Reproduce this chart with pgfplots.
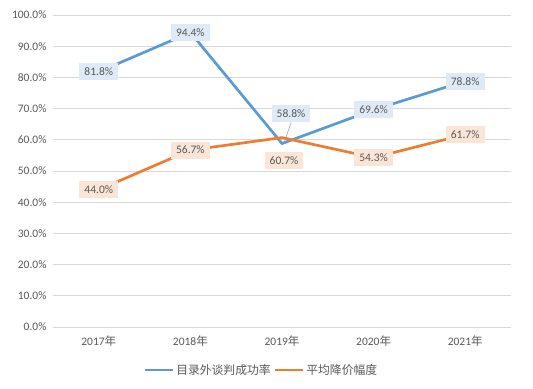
\documentclass[border=0pt]{standalone}
\usepackage{pgfplots}
\pgfplotsset{compat=1.18}
\usepackage{fontspec}
\setmainfont{Carlito}
\newfontfamily\cjk{Noto Sans CJK SC}
\definecolor{txt}{HTML}{595959}
\definecolor{gridc}{HTML}{D9D9D9}
\definecolor{cblue}{HTML}{5B9BD5}
\definecolor{corange}{HTML}{ED7D31}
\definecolor{lblue}{HTML}{DEEBF7}
\definecolor{lorange}{HTML}{FBE5D6}
\begin{document}
\begin{tikzpicture}[font=\fontsize{11bp}{13bp}\selectfont]
\path (0,0) rectangle (533bp,389bp);
\begin{axis}[
  at={(53bp,62bp)}, anchor=south west,
  scale only axis, width=458bp, height=312bp,
  xmin=-0.5, xmax=4.5, ymin=0, ymax=100,
  xtick={0,1,2,3,4},
  xticklabels={2017{\cjk 年},2018{\cjk 年},2019{\cjk 年},2020{\cjk 年},2021{\cjk 年}},
  ytick={0,10,...,100},
  yticklabel={\pgfmathprintnumber[fixed,fixed zerofill,precision=1]{\tick}\%},
  /pgf/number format/assume math mode=true,
  ymajorgrids, xmajorgrids=false,
  major grid style={draw=gridc, line width=0.8bp},
  axis line style={draw=none},
  major tick length=0pt,
  tick label style={text=txt, font=\fontsize{11.5bp}{13bp}\selectfont},
  yticklabel style={xshift=-3bp},
  xticklabel style={yshift=-5bp},
  clip=false,
  legend style={at={(0.455,-0.138)}, anchor=center, draw=none, fill=none,
    legend columns=2, text=txt, font=\cjk\fontsize{11.8bp}{13bp}\selectfont,
    /tikz/every odd column/.append style={inner xsep=1bp},
    /tikz/every even column/.append style={column sep=1bp}},
  legend image code/.code={\draw[#1] (0bp,0bp) -- (28bp,0bp);},
  nodes near coords={\pgfmathprintnumber[fixed,fixed zerofill,precision=1]{\pgfplotspointmeta}\%},
  every node near coord/.append style={anchor=center, text=txt,
    font=\fontsize{11.5bp}{13bp}\selectfont, inner xsep=5bp, inner ysep=3bp,
    minimum height=17bp},
]
\draw[gray!70, line width=0.6bp] (axis cs:2.1,65.6) -- (axis cs:2.02,58.8);
\addplot[cblue, line width=2.7bp,
  every node near coord/.append style={fill=lblue},
  visualization depends on={\thisrow{dx} \as \mydx},
  visualization depends on={\thisrow{dy} \as \mydy},
  every node near coord/.append style={xshift=\mydx bp, yshift=\mydy bp}]
  table[x=x,y=y] {
x y dx dy
0 81.8 0 0
1 94.4 0 0
2 58.8 9 30
3 69.6 0 0
4 78.8 0 0
};
\addlegendentry{目录外谈判成功率}
\addplot[corange, line width=2.7bp,
  every node near coord/.append style={fill=lorange},
  visualization depends on={\thisrow{dx} \as \mydx},
  visualization depends on={\thisrow{dy} \as \mydy},
  every node near coord/.append style={xshift=\mydx bp, yshift=\mydy bp}]
  table[x=x,y=y] {
x y dx dy
0 44.0 0 0
1 56.7 0 0
2 60.7 2 -23
3 54.3 0 0
4 61.7 0 0
};
\addlegendentry{平均降价幅度}
\end{axis}
\end{tikzpicture}
\end{document}
